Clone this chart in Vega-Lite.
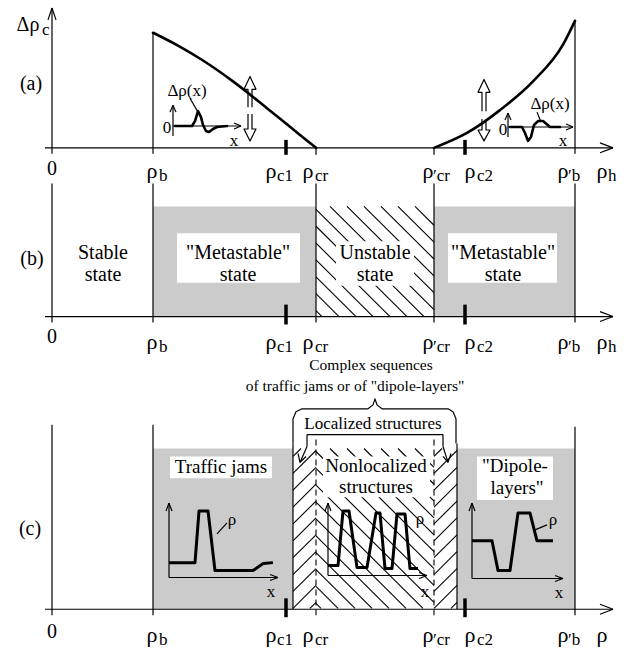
{
  "$schema": "https://vega.github.io/schema/vega-lite/v6.json",
  "width": 624,
  "height": 648,
  "padding": 0,
  "autosize": {"type": "fit", "contains": "padding"},
  "background": "white",
  "config": {"view": {"stroke": null}, "text": {"font": "Liberation Serif", "fill": "black", "align": "center", "baseline": "middle"}},
  "encoding": {
    "x": {"field": "x", "type": "quantitative", "scale": {"domain": [0, 624], "nice": false, "zero": false}, "axis": null},
    "y": {"field": "y", "type": "quantitative", "scale": {"domain": [0, 648], "nice": false, "zero": false, "reverse": true}, "axis": null}
  },
  "datasets": {
    "shade": [
      {"x": 153, "x2": 316, "y": 208, "y2": 319},
      {"x": 434, "x2": 575, "y": 208, "y2": 319},
      {"x": 153, "x2": 293, "y": 452, "y2": 614},
      {"x": 457, "x2": 575, "y": 452, "y2": 614}
    ],
    "boxes": [
      {"x": 177, "x2": 300, "y": 235, "y2": 285},
      {"x": 448, "x2": 557, "y": 235, "y2": 285},
      {"x": 336, "x2": 414, "y": 243, "y2": 288},
      {"x": 170, "x2": 272, "y": 460, "y2": 482},
      {"x": 323, "x2": 430, "y": 460, "y2": 501},
      {"x": 477, "x2": 553, "y": 460, "y2": 504}
    ],
    "hatch": [
      {"x": 415, "y": 208, "x2": 434, "y2": 227},
      {"x": 398, "y": 208, "x2": 434, "y2": 244},
      {"x": 381, "y": 208, "x2": 434, "y2": 261},
      {"x": 364, "y": 208, "x2": 434, "y2": 278},
      {"x": 347, "y": 208, "x2": 434, "y2": 295},
      {"x": 330, "y": 208, "x2": 434, "y2": 312},
      {"x": 316, "y": 211, "x2": 424, "y2": 319},
      {"x": 316, "y": 228, "x2": 407, "y2": 319},
      {"x": 316, "y": 245, "x2": 390, "y2": 319},
      {"x": 316, "y": 262, "x2": 373, "y2": 319},
      {"x": 316, "y": 279, "x2": 356, "y2": 319},
      {"x": 316, "y": 296, "x2": 339, "y2": 319},
      {"x": 316, "y": 313, "x2": 322, "y2": 319},
      {"x": 415, "y": 452, "x2": 434, "y2": 471},
      {"x": 398, "y": 452, "x2": 434, "y2": 488},
      {"x": 381, "y": 452, "x2": 434, "y2": 505},
      {"x": 364, "y": 452, "x2": 434, "y2": 522},
      {"x": 347, "y": 452, "x2": 434, "y2": 539},
      {"x": 330, "y": 452, "x2": 434, "y2": 556},
      {"x": 316, "y": 455, "x2": 434, "y2": 573},
      {"x": 316, "y": 472, "x2": 434, "y2": 590},
      {"x": 316, "y": 489, "x2": 434, "y2": 607},
      {"x": 316, "y": 506, "x2": 423, "y2": 613},
      {"x": 316, "y": 523, "x2": 406, "y2": 613},
      {"x": 316, "y": 540, "x2": 389, "y2": 613},
      {"x": 316, "y": 557, "x2": 372, "y2": 613},
      {"x": 316, "y": 574, "x2": 355, "y2": 613},
      {"x": 316, "y": 591, "x2": 338, "y2": 613},
      {"x": 316, "y": 608, "x2": 321, "y2": 613},
      {"x": 293, "y": 460, "x2": 301, "y2": 452},
      {"x": 293, "y": 477, "x2": 316, "y2": 454},
      {"x": 293, "y": 494, "x2": 316, "y2": 471},
      {"x": 293, "y": 511, "x2": 316, "y2": 488},
      {"x": 293, "y": 528, "x2": 316, "y2": 505},
      {"x": 293, "y": 545, "x2": 316, "y2": 522},
      {"x": 293, "y": 562, "x2": 316, "y2": 539},
      {"x": 293, "y": 579, "x2": 316, "y2": 556},
      {"x": 293, "y": 596, "x2": 316, "y2": 573},
      {"x": 293, "y": 613, "x2": 316, "y2": 590},
      {"x": 310, "y": 613, "x2": 316, "y2": 607},
      {"x": 434, "y": 460, "x2": 442, "y2": 452},
      {"x": 434, "y": 477, "x2": 457, "y2": 454},
      {"x": 434, "y": 494, "x2": 457, "y2": 471},
      {"x": 434, "y": 511, "x2": 457, "y2": 488},
      {"x": 434, "y": 528, "x2": 457, "y2": 505},
      {"x": 434, "y": 545, "x2": 457, "y2": 522},
      {"x": 434, "y": 562, "x2": 457, "y2": 539},
      {"x": 434, "y": 579, "x2": 457, "y2": 556},
      {"x": 434, "y": 596, "x2": 457, "y2": 573},
      {"x": 434, "y": 613, "x2": 457, "y2": 590},
      {"x": 451, "y": 613, "x2": 457, "y2": 607}
    ],
    "thin": [
      {"x": 52, "y": 8, "x2": 52, "y2": 155},
      {"x": 52, "y": 8, "x2": 48, "y2": 20},
      {"x": 52, "y": 8, "x2": 56, "y2": 20},
      {"x": 45, "y": 149, "x2": 613, "y2": 149},
      {"x": 613, "y": 149, "x2": 600, "y2": 144},
      {"x": 613, "y": 149, "x2": 600, "y2": 154},
      {"x": 153, "y": 33, "x2": 153, "y2": 155},
      {"x": 575, "y": 20, "x2": 575, "y2": 155},
      {"x": 316, "y": 149, "x2": 316, "y2": 156},
      {"x": 434, "y": 149, "x2": 434, "y2": 156},
      {"x": 173, "y": 137, "x2": 173, "y2": 106},
      {"x": 173, "y": 106, "x2": 170, "y2": 113},
      {"x": 173, "y": 106, "x2": 176, "y2": 113},
      {"x": 173, "y": 127, "x2": 241, "y2": 127},
      {"x": 241, "y": 127, "x2": 234, "y2": 124},
      {"x": 241, "y": 127, "x2": 234, "y2": 130},
      {"x": 508, "y": 138, "x2": 508, "y2": 114},
      {"x": 508, "y": 114, "x2": 505, "y2": 121},
      {"x": 508, "y": 114, "x2": 511, "y2": 121},
      {"x": 508, "y": 128, "x2": 573, "y2": 128},
      {"x": 573, "y": 128, "x2": 566, "y2": 125},
      {"x": 573, "y": 128, "x2": 566, "y2": 131},
      {"x": 190, "y": 99, "x2": 198, "y2": 113},
      {"x": 537, "y": 113, "x2": 541, "y2": 123},
      {"x": 52, "y": 185, "x2": 52, "y2": 325},
      {"x": 45, "y": 319, "x2": 613, "y2": 319},
      {"x": 613, "y": 319, "x2": 600, "y2": 314},
      {"x": 613, "y": 319, "x2": 600, "y2": 324},
      {"x": 153, "y": 185, "x2": 153, "y2": 325},
      {"x": 316, "y": 185, "x2": 316, "y2": 325},
      {"x": 434, "y": 185, "x2": 434, "y2": 325},
      {"x": 575, "y": 185, "x2": 575, "y2": 325},
      {"x": 52, "y": 428, "x2": 52, "y2": 620},
      {"x": 45, "y": 614, "x2": 613, "y2": 614},
      {"x": 613, "y": 614, "x2": 600, "y2": 609},
      {"x": 613, "y": 614, "x2": 600, "y2": 619},
      {"x": 153, "y": 428, "x2": 153, "y2": 620},
      {"x": 575, "y": 430, "x2": 575, "y2": 620},
      {"x": 293, "y": 447, "x2": 293, "y2": 614},
      {"x": 457, "y": 447, "x2": 457, "y2": 614},
      {"x": 169, "y": 582, "x2": 169, "y2": 507},
      {"x": 169, "y": 507, "x2": 166, "y2": 515},
      {"x": 169, "y": 507, "x2": 172, "y2": 515},
      {"x": 169, "y": 582, "x2": 278, "y2": 582},
      {"x": 278, "y": 582, "x2": 270, "y2": 579},
      {"x": 278, "y": 582, "x2": 270, "y2": 585},
      {"x": 328, "y": 580, "x2": 328, "y2": 507},
      {"x": 328, "y": 507, "x2": 325, "y2": 515},
      {"x": 328, "y": 507, "x2": 331, "y2": 515},
      {"x": 328, "y": 580, "x2": 427, "y2": 580},
      {"x": 427, "y": 580, "x2": 419, "y2": 577},
      {"x": 427, "y": 580, "x2": 419, "y2": 583},
      {"x": 472, "y": 583, "x2": 472, "y2": 507},
      {"x": 472, "y": 507, "x2": 469, "y2": 515},
      {"x": 472, "y": 507, "x2": 475, "y2": 515},
      {"x": 472, "y": 583, "x2": 563, "y2": 583},
      {"x": 563, "y": 583, "x2": 555, "y2": 580},
      {"x": 563, "y": 583, "x2": 555, "y2": 586},
      {"x": 217, "y": 538, "x2": 227, "y2": 527},
      {"x": 535, "y": 534, "x2": 547, "y2": 529},
      {"x": 307, "y": 438, "x2": 443, "y2": 438},
      {"x": 307, "y": 438, "x2": 307, "y2": 450},
      {"x": 307, "y": 450, "x2": 300, "y2": 466},
      {"x": 300, "y": 466, "x2": 298, "y2": 457},
      {"x": 300, "y": 466, "x2": 306, "y2": 460},
      {"x": 443, "y": 438, "x2": 443, "y2": 450},
      {"x": 443, "y": 450, "x2": 448, "y2": 466},
      {"x": 448, "y": 466, "x2": 443, "y2": 460},
      {"x": 448, "y": 466, "x2": 451, "y2": 457}
    ],
    "dashed": [
      {"x": 316, "y": 443, "x2": 316, "y2": 620},
      {"x": 434, "y": 443, "x2": 434, "y2": 620}
    ],
    "thick": [
      {"x": 286, "y": 141, "x2": 286, "y2": 156},
      {"x": 465, "y": 141, "x2": 465, "y2": 156},
      {"x": 286, "y": 307, "x2": 286, "y2": 327},
      {"x": 465, "y": 307, "x2": 465, "y2": 327},
      {"x": 286, "y": 603, "x2": 286, "y2": 622},
      {"x": 465, "y": 603, "x2": 465, "y2": 622}
    ],
    "poly1": [
      {"g": "brace", "i": 1, "x": 293, "y": 447},
      {"g": "brace", "i": 2, "x": 293, "y": 422},
      {"g": "brace", "i": 3, "x": 296, "y": 415},
      {"g": "brace", "i": 4, "x": 302, "y": 412},
      {"g": "brace", "i": 5, "x": 368, "y": 412},
      {"g": "brace", "i": 6, "x": 373, "y": 408},
      {"g": "brace", "i": 7, "x": 375, "y": 402},
      {"g": "brace", "i": 8, "x": 377, "y": 408},
      {"g": "brace", "i": 9, "x": 382, "y": 412},
      {"g": "brace", "i": 10, "x": 448, "y": 412},
      {"g": "brace", "i": 11, "x": 453, "y": 415},
      {"g": "brace", "i": 12, "x": 456, "y": 422},
      {"g": "brace", "i": 13, "x": 456, "y": 447},
      {"g": "up1", "i": 1, "x": 248, "y": 108},
      {"g": "up1", "i": 2, "x": 248, "y": 90},
      {"g": "up1", "i": 3, "x": 244, "y": 90},
      {"g": "up1", "i": 4, "x": 250, "y": 77},
      {"g": "up1", "i": 5, "x": 256, "y": 90},
      {"g": "up1", "i": 6, "x": 252, "y": 90},
      {"g": "up1", "i": 7, "x": 252, "y": 108},
      {"g": "dn1", "i": 1, "x": 248, "y": 115},
      {"g": "dn1", "i": 2, "x": 248, "y": 130},
      {"g": "dn1", "i": 3, "x": 244, "y": 130},
      {"g": "dn1", "i": 4, "x": 250, "y": 142},
      {"g": "dn1", "i": 5, "x": 256, "y": 130},
      {"g": "dn1", "i": 6, "x": 252, "y": 130},
      {"g": "dn1", "i": 7, "x": 252, "y": 115},
      {"g": "up2", "i": 1, "x": 482, "y": 112},
      {"g": "up2", "i": 2, "x": 482, "y": 93},
      {"g": "up2", "i": 3, "x": 478, "y": 93},
      {"g": "up2", "i": 4, "x": 484, "y": 80},
      {"g": "up2", "i": 5, "x": 490, "y": 93},
      {"g": "up2", "i": 6, "x": 486, "y": 93},
      {"g": "up2", "i": 7, "x": 486, "y": 112},
      {"g": "dn2", "i": 1, "x": 482, "y": 120},
      {"g": "dn2", "i": 2, "x": 482, "y": 131},
      {"g": "dn2", "i": 3, "x": 478, "y": 131},
      {"g": "dn2", "i": 4, "x": 484, "y": 142},
      {"g": "dn2", "i": 5, "x": 490, "y": 131},
      {"g": "dn2", "i": 6, "x": 486, "y": 131},
      {"g": "dn2", "i": 7, "x": 486, "y": 120}
    ],
    "main": [
      {"g": "left", "i": 1, "x": 153, "y": 33},
      {"g": "left", "i": 2, "x": 178, "y": 46},
      {"g": "left", "i": 3, "x": 203, "y": 61},
      {"g": "left", "i": 4, "x": 233, "y": 82},
      {"g": "left", "i": 5, "x": 267, "y": 109},
      {"g": "left", "i": 6, "x": 300, "y": 136},
      {"g": "left", "i": 7, "x": 316, "y": 149},
      {"g": "right", "i": 1, "x": 434, "y": 149},
      {"g": "right", "i": 2, "x": 467, "y": 134},
      {"g": "right", "i": 3, "x": 500, "y": 111},
      {"g": "right", "i": 4, "x": 533, "y": 82},
      {"g": "right", "i": 5, "x": 563, "y": 45},
      {"g": "right", "i": 6, "x": 575, "y": 21}
    ],
    "poly25": [
      {"g": "ia1", "i": 1, "x": 175, "y": 127},
      {"g": "ia1", "i": 2, "x": 192, "y": 127},
      {"g": "ia1", "i": 3, "x": 195, "y": 122},
      {"g": "ia1", "i": 4, "x": 198, "y": 112},
      {"g": "ia1", "i": 5, "x": 201, "y": 118},
      {"g": "ia1", "i": 6, "x": 203, "y": 126},
      {"g": "ia1", "i": 7, "x": 206, "y": 132},
      {"g": "ia1", "i": 8, "x": 209, "y": 133},
      {"g": "ia1", "i": 9, "x": 213, "y": 130},
      {"g": "ia1", "i": 10, "x": 217, "y": 128},
      {"g": "ia1", "i": 11, "x": 227, "y": 127},
      {"g": "ia2", "i": 1, "x": 510, "y": 128},
      {"g": "ia2", "i": 2, "x": 522, "y": 128},
      {"g": "ia2", "i": 3, "x": 525, "y": 134},
      {"g": "ia2", "i": 4, "x": 528, "y": 142},
      {"g": "ia2", "i": 5, "x": 531, "y": 138},
      {"g": "ia2", "i": 6, "x": 534, "y": 126},
      {"g": "ia2", "i": 7, "x": 538, "y": 122},
      {"g": "ia2", "i": 8, "x": 543, "y": 122},
      {"g": "ia2", "i": 9, "x": 550, "y": 128},
      {"g": "ia2", "i": 10, "x": 560, "y": 128}
    ],
    "poly3": [
      {"g": "ic1", "i": 1, "x": 169, "y": 567},
      {"g": "ic1", "i": 2, "x": 195, "y": 567},
      {"g": "ic1", "i": 3, "x": 199, "y": 515},
      {"g": "ic1", "i": 4, "x": 208, "y": 515},
      {"g": "ic1", "i": 5, "x": 215, "y": 575},
      {"g": "ic1", "i": 6, "x": 253, "y": 575},
      {"g": "ic1", "i": 7, "x": 263, "y": 568},
      {"g": "ic1", "i": 8, "x": 273, "y": 567},
      {"g": "ic2", "i": 1, "x": 328, "y": 570},
      {"g": "ic2", "i": 2, "x": 338, "y": 570},
      {"g": "ic2", "i": 3, "x": 343, "y": 515},
      {"g": "ic2", "i": 4, "x": 349, "y": 515},
      {"g": "ic2", "i": 5, "x": 357, "y": 572},
      {"g": "ic2", "i": 6, "x": 367, "y": 572},
      {"g": "ic2", "i": 7, "x": 376, "y": 517},
      {"g": "ic2", "i": 8, "x": 380, "y": 517},
      {"g": "ic2", "i": 9, "x": 385, "y": 573},
      {"g": "ic2", "i": 10, "x": 392, "y": 573},
      {"g": "ic2", "i": 11, "x": 397, "y": 518},
      {"g": "ic2", "i": 12, "x": 405, "y": 518},
      {"g": "ic2", "i": 13, "x": 410, "y": 573},
      {"g": "ic2", "i": 14, "x": 418, "y": 573},
      {"g": "ic3", "i": 1, "x": 472, "y": 545},
      {"g": "ic3", "i": 2, "x": 492, "y": 545},
      {"g": "ic3", "i": 3, "x": 498, "y": 575},
      {"g": "ic3", "i": 4, "x": 510, "y": 575},
      {"g": "ic3", "i": 5, "x": 518, "y": 517},
      {"g": "ic3", "i": 6, "x": 530, "y": 517},
      {"g": "ic3", "i": 7, "x": 537, "y": 545},
      {"g": "ic3", "i": 8, "x": 553, "y": 545}
    ],
    "trho": [
      {"t": "ρ", "x": 152, "y": 172},
      {"t": "ρ", "x": 271, "y": 172},
      {"t": "ρ", "x": 308, "y": 172},
      {"t": "ρ", "x": 428, "y": 172},
      {"t": "ρ", "x": 470, "y": 172},
      {"t": "ρ", "x": 563, "y": 172},
      {"t": "ρ", "x": 602, "y": 172},
      {"t": "ρ", "x": 152, "y": 345},
      {"t": "ρ", "x": 271, "y": 345},
      {"t": "ρ", "x": 308, "y": 345},
      {"t": "ρ", "x": 428, "y": 345},
      {"t": "ρ", "x": 470, "y": 345},
      {"t": "ρ", "x": 563, "y": 345},
      {"t": "ρ", "x": 602, "y": 345},
      {"t": "ρ", "x": 152, "y": 640},
      {"t": "ρ", "x": 271, "y": 640},
      {"t": "ρ", "x": 308, "y": 640},
      {"t": "ρ", "x": 428, "y": 640},
      {"t": "ρ", "x": 470, "y": 640},
      {"t": "ρ", "x": 563, "y": 640},
      {"t": "ρ", "x": 602, "y": 640}
    ],
    "t20": [
      {"t": "Δρ", "x": 28, "y": 25},
      {"t": "(a)", "x": 31, "y": 85},
      {"t": "(b)", "x": 32, "y": 261},
      {"t": "(c)", "x": 30, "y": 533},
      {"t": "0", "x": 52, "y": 170},
      {"t": "0", "x": 52, "y": 340},
      {"t": "0", "x": 52, "y": 637},
      {"t": "Stable", "x": 103, "y": 255},
      {"t": "state", "x": 103, "y": 277},
      {"t": "\"Metastable\"", "x": 238, "y": 255},
      {"t": "state", "x": 238, "y": 277},
      {"t": "Unstable", "x": 375, "y": 255},
      {"t": "state", "x": 375, "y": 277},
      {"t": "\"Metastable\"", "x": 503, "y": 255},
      {"t": "state", "x": 503, "y": 277}
    ],
    "tsub": [
      {"t": "c", "x": 42, "y": 30},
      {"t": "b", "x": 159, "y": 177},
      {"t": "c1", "x": 277, "y": 177},
      {"t": "cr", "x": 315, "y": 177},
      {"t": "′cr", "x": 433, "y": 177},
      {"t": "c2", "x": 477, "y": 177},
      {"t": "′b", "x": 568, "y": 177},
      {"t": "h", "x": 608, "y": 177},
      {"t": "b", "x": 159, "y": 350},
      {"t": "c1", "x": 277, "y": 350},
      {"t": "cr", "x": 315, "y": 350},
      {"t": "′cr", "x": 433, "y": 350},
      {"t": "c2", "x": 477, "y": 350},
      {"t": "′b", "x": 568, "y": 350},
      {"t": "h", "x": 608, "y": 350},
      {"t": "b", "x": 159, "y": 645},
      {"t": "c1", "x": 277, "y": 645},
      {"t": "cr", "x": 315, "y": 645},
      {"t": "′cr", "x": 433, "y": 645},
      {"t": "c2", "x": 477, "y": 645},
      {"t": "′b", "x": 568, "y": 645}
    ],
    "t19": [
      {"t": "Traffic jams", "x": 221, "y": 471},
      {"t": "Nonlocalized", "x": 376, "y": 470},
      {"t": "structures", "x": 376, "y": 491},
      {"t": "\"Dipole-", "x": 515, "y": 470},
      {"t": "layers\"", "x": 517, "y": 492}
    ],
    "t17": [
      {"t": "Localized structures", "x": 373, "y": 427},
      {"t": "Δρ(x)", "x": 187, "y": 92},
      {"t": "0", "x": 167, "y": 129},
      {"t": "x", "x": 234, "y": 142},
      {"t": "Δρ(x)", "x": 550, "y": 105},
      {"t": "0", "x": 503, "y": 131},
      {"t": "x", "x": 563, "y": 142},
      {"t": "ρ", "x": 232, "y": 524},
      {"t": "x", "x": 271, "y": 597},
      {"t": "ρ", "x": 420, "y": 523},
      {"t": "x", "x": 425, "y": 597},
      {"t": "ρ", "x": 553, "y": 524},
      {"t": "x", "x": 559, "y": 598}
    ],
    "t15": [
      {"t": "Complex sequences", "x": 371, "y": 368},
      {"t": "of traffic jams or of \"dipole-layers\"", "x": 355, "y": 389}
    ]
  },
  "layer": [
    {"data": {"name": "shade"}, "mark": {"type": "rect", "fill": "#cbcbcb"}, "encoding": {"x2": {"field": "x2"}, "y2": {"field": "y2"}}},
    {"data": {"name": "hatch"}, "mark": {"type": "rule", "stroke": "black", "strokeWidth": 1.1}, "encoding": {"x2": {"field": "x2"}, "y2": {"field": "y2"}}},
    {"data": {"name": "boxes"}, "mark": {"type": "rect", "fill": "white"}, "encoding": {"x2": {"field": "x2"}, "y2": {"field": "y2"}}},
    {"data": {"name": "thin"}, "mark": {"type": "rule", "stroke": "black", "strokeWidth": 1.2}, "encoding": {"x2": {"field": "x2"}, "y2": {"field": "y2"}}},
    {"data": {"name": "dashed"}, "mark": {"type": "rule", "stroke": "black", "strokeWidth": 1.1, "strokeDash": [6, 4]}, "encoding": {"x2": {"field": "x2"}, "y2": {"field": "y2"}}},
    {"data": {"name": "thick"}, "mark": {"type": "rule", "stroke": "black", "strokeWidth": 3.5}, "encoding": {"x2": {"field": "x2"}, "y2": {"field": "y2"}}},
    {"data": {"name": "poly1"}, "mark": {"type": "line", "stroke": "black", "strokeWidth": 1.2, "strokeJoin": "round"}, "encoding": {"detail": {"field": "g"}, "order": {"field": "i"}}},
    {"data": {"name": "main"}, "mark": {"type": "line", "stroke": "black", "strokeWidth": 2.6, "interpolate": "monotone", "strokeCap": "round"}, "encoding": {"detail": {"field": "g"}, "order": {"field": "i"}}},
    {"data": {"name": "poly25"}, "mark": {"type": "line", "stroke": "black", "strokeWidth": 2.6, "strokeJoin": "round", "strokeCap": "round"}, "encoding": {"detail": {"field": "g"}, "order": {"field": "i"}}},
    {"data": {"name": "poly3"}, "mark": {"type": "line", "stroke": "black", "strokeWidth": 3, "strokeJoin": "round"}, "encoding": {"detail": {"field": "g"}, "order": {"field": "i"}}},
    {"data": {"name": "trho"}, "mark": {"type": "text", "fontSize": 22}, "encoding": {"text": {"field": "t"}}},
    {"data": {"name": "t20"}, "mark": {"type": "text", "fontSize": 20}, "encoding": {"text": {"field": "t"}}},
    {"data": {"name": "tsub"}, "mark": {"type": "text", "fontSize": 17, "align": "left"}, "encoding": {"text": {"field": "t"}}},
    {"data": {"name": "t19"}, "mark": {"type": "text", "fontSize": 19}, "encoding": {"text": {"field": "t"}}},
    {"data": {"name": "t17"}, "mark": {"type": "text", "fontSize": 17}, "encoding": {"text": {"field": "t"}}},
    {"data": {"name": "t15"}, "mark": {"type": "text", "fontSize": 15.5}, "encoding": {"text": {"field": "t"}}}
  ]
}
